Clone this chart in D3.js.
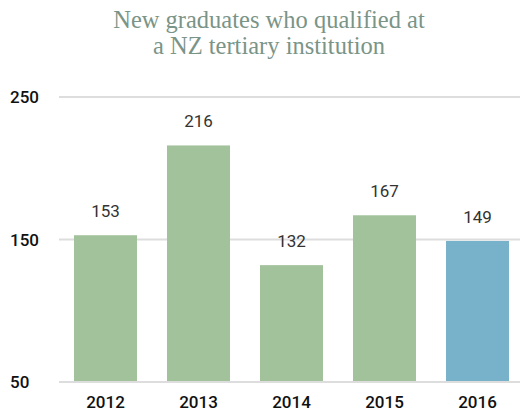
<!DOCTYPE html>
<html>
<head>
<meta charset="utf-8">
<script src="https://cdn.jsdelivr.net/npm/d3@7"></script>
<style>
  body { margin: 0; background: #fff; }
  svg text { font-family: Roboto, "Noto Sans", sans-serif; }
</style>
</head>
<body>
<div id="chart"></div>
<script>
var years = ["2012", "2013", "2014", "2015", "2016"];
var graduates = [153, 216, 132, 167, 149];
var ticks = [50, 150, 250];
var titleLines = ["New graduates who qualified at", "a NZ tertiary institution"];

var width = 520,
    height = 416;

var svg = d3.select("#chart").append("svg")
  .attr("width", width)
  .attr("height", height);

var x = d3.scaleBand()
  .domain(years)
  .range([59, 524])
  .paddingInner(0.3226)
  .paddingOuter(0.161);

var y = d3.scaleLinear()
  .domain([50, 250])
  .range([382, 97]);

// title
svg.append("g").selectAll("text")
  .data(titleLines)
  .enter().append("text")
    .attr("x", 269)
    .attr("y", function(d, i) { return 28 + i * 26; })
    .attr("text-anchor", "middle")
    .style("font-family", "'Liberation Serif', 'DejaVu Serif', serif")
    .style("font-size", "24.5px")
    .style("fill", "#7a9487")
    .text(function(d) { return d; });

// grid lines
svg.append("g").selectAll("line")
  .data(ticks)
  .enter().append("line")
    .attr("x1", 59)
    .attr("x2", width)
    .attr("y1", function(d) { return y(d); })
    .attr("y2", function(d) { return y(d); })
    .style("stroke", "#dddddd")
    .style("stroke-width", 2);

// y tick labels
svg.append("g").selectAll("text")
  .data(ticks)
  .enter().append("text")
    .attr("x", 10)
    .attr("y", function(d) { return y(d) + 6; })
    .style("font-size", "17px")
    .style("font-weight", 500)
    .style("fill", "#111")
    .text(function(d) { return d; });

// bars
svg.append("g").selectAll("rect")
  .data(graduates)
  .enter().append("rect")
    .attr("x", function(d, i) { return x(years[i]); })
    .attr("width", x.bandwidth())
    .attr("y", function(d) { return y(d); })
    .attr("height", function(d) { return y(50) - 1 - y(d); })
    .style("fill", function(d, i) { return i === years.length - 1 ? "#78b1ca" : "#a1c29b"; });

// value labels
svg.append("g").selectAll("text")
  .data(graduates)
  .enter().append("text")
    .attr("x", function(d, i) { return x(years[i]) + x.bandwidth() / 2; })
    .attr("y", function(d) { return y(d) - 18; })
    .attr("text-anchor", "middle")
    .style("font-size", "17px")
    .style("fill", "#333")
    .text(function(d) { return d; });

// x labels
svg.append("g").selectAll("text")
  .data(years)
  .enter().append("text")
    .attr("x", function(d) { return x(d) + x.bandwidth() / 2; })
    .attr("y", 408)
    .attr("text-anchor", "middle")
    .style("font-size", "17px")
    .style("font-weight", 500)
    .style("fill", "#111")
    .text(function(d) { return d; });
</script>
</body>
</html>
